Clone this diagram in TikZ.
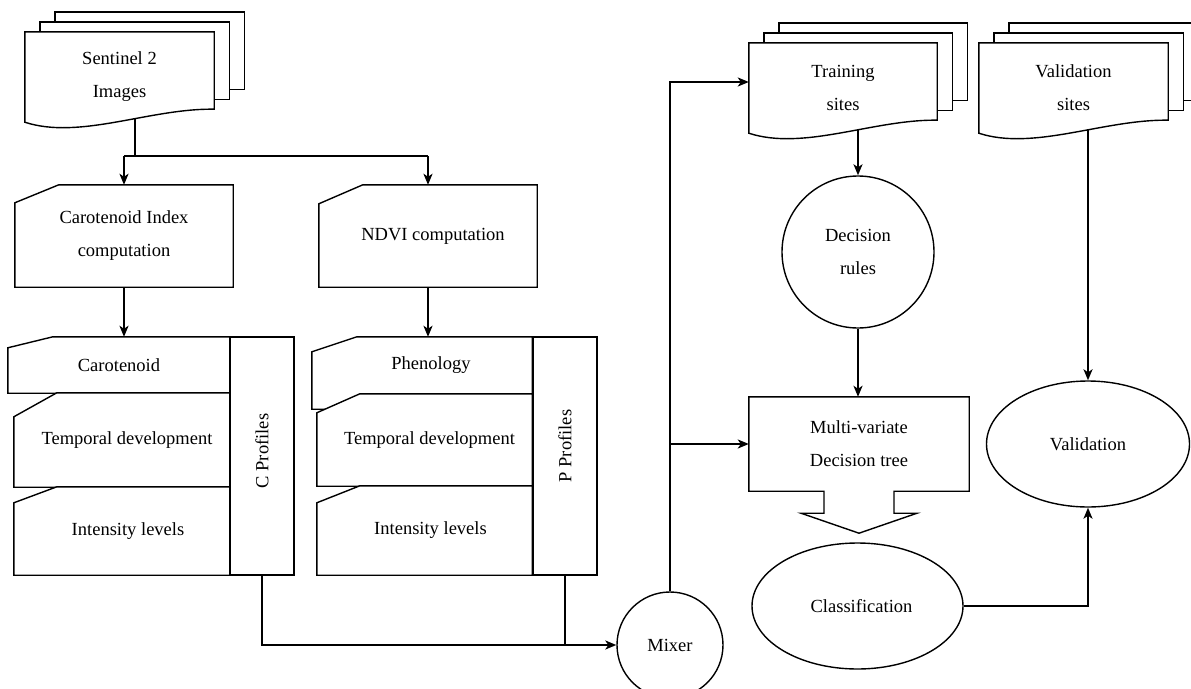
\documentclass[tikz,border=0pt]{standalone}
\usepackage{fontspec}
\setmainfont{Liberation Serif}
\usetikzlibrary{arrows.meta,shapes.geometric,calc}
\pgfdeclarelayer{paper}
\pgfdeclarelayer{under}
\pgfdeclarelayer{shapes}
\pgfsetlayers{paper,under,shapes,main}
\tikzset{
  lab/.style={inner sep=0pt, font=\fontsize{18.5}{33}\selectfont, align=center},
  shapeline/.style={line width=1.4pt, draw=black, line join=miter},
  conn/.style={line width=2pt, draw=black},
  arr/.style={conn, -{Stealth[length=11pt,width=9pt,inset=3pt]}},
  prof/.style={draw=black, line width=2.6pt, fill=white, rectangle, inner sep=0pt},
  roundnode/.style={lab, shapeline, draw, fill=white},
}
\newcommand{\docpile}[1]{%
  \draw[shapeline, fill=white] ([xshift=30pt,yshift=20pt]#1.north west) rectangle ([xshift=30pt,yshift=33pt]#1.south east);
  \draw[shapeline, fill=white] ([xshift=15pt,yshift=10pt]#1.north west) rectangle ([xshift=15pt,yshift=23pt]#1.south east);
  \draw[shapeline, fill=white] (#1.north west) -- (#1.north east) -- ([yshift=13pt]#1.south east)
    .. controls ([xshift=125pt,yshift=14pt]#1.south west) and ([xshift=55pt,yshift=-18pt]#1.south west) .. (#1.south west) -- cycle;
}
\newcommand{\cardshape}[3]{%
  \draw[shapeline, fill=white] ([xshift=#2]#1.north west) -- (#1.north east) -- (#1.south east) -- (#1.south west) -- ([yshift=-#3]#1.north west) -- cycle;
}
\begin{document}
\begin{tikzpicture}[x=1pt,y=-1pt]
\useasboundingbox (0,0) rectangle (1191,688);
\begin{pgfonlayer}{paper}
  \fill[white] (0,0) rectangle (1191,688);
\end{pgfonlayer}

% document stacks
\node[lab, minimum width=189pt, minimum height=90pt] (sen) at (119.5,77) {Sentinel 2\\Images};
\node[lab, minimum width=188pt, minimum height=90pt] (train) at (843,88) {Training\\sites};
\node[lab, minimum width=189pt, minimum height=90pt] (vsites) at (1073.5,88) {Validation\\sites};

% computation cards
\node[lab, minimum width=218pt, minimum height=102pt] (ci) at (124,236) {Carotenoid Index\\computation};
\node[lab, minimum width=218pt, minimum height=102pt] (ndvi) at (428,236) {\hspace*{10pt}NDVI computation};

% C stack
\node[lab, minimum width=222pt, minimum height=56pt] (car) at (119,365) {Carotenoid};
\node[lab, minimum width=216pt, minimum height=94pt] (ctd) at (122,440) {\hspace*{10pt}Temporal development};
\node[lab, minimum width=216pt, minimum height=88pt] (cil) at (122,531) {\hspace*{12pt}Intensity levels};

% P stack
\node[lab, minimum width=220pt, minimum height=57pt] (phen) at (422,365.5) {\hspace*{18pt}Phenology};
\node[lab, minimum width=215pt, minimum height=92pt] (ptd) at (424.5,440) {\hspace*{10pt}Temporal development};
\node[lab, minimum width=215pt, minimum height=89pt] (pil) at (424.5,530.5) {\hspace*{12pt}Intensity levels};

% profiles
\node[prof, minimum width=64pt, minimum height=238pt] (cprof) at (262,456) {};
\node[lab, rotate=90] (cproflab) at (262,451) {C Profiles};
\node[prof, minimum width=64pt, minimum height=238pt] (pprof) at (565,456) {};
\node[lab, rotate=90] (pproflab) at (565,446) {P Profiles};

% right part
\node[roundnode, circle, minimum size=106pt] (mixer) at (670,645) {Mixer};
\node[roundnode, circle, minimum size=152pt] (rules) at (858,252) {Decision\\rules};
\node[lab, minimum width=220pt, minimum height=94pt] (mv) at (859,444) {Multi-variate\\Decision tree};
\node[roundnode, ellipse, minimum width=211pt, minimum height=126pt] (cls) at (857.5,606) {\hspace*{8pt}Classification};
\node[roundnode, ellipse, minimum width=203pt, minimum height=126pt] (val) at (1088,444) {Validation};

% outlines
\begin{pgfonlayer}{shapes}
  \docpile{sen}
  \docpile{train}
  \docpile{vsites}
  \cardshape{ci}{44pt}{18pt}
  \cardshape{ndvi}{44pt}{19pt}
  \cardshape{car}{45pt}{11pt}
  \cardshape{ctd}{43pt}{24pt}
  \cardshape{cil}{43pt}{16pt}
  \draw[shapeline, fill=white] ([xshift=45pt]phen.north west) -- (phen.north east) -- ([yshift=-15pt]phen.south east) -- ([yshift=-15pt]phen.south west) -- ([yshift=-15pt]phen.north west) -- cycle;
  \cardshape{ptd}{43pt}{19pt}
  \cardshape{pil}{43pt}{17pt}
  \draw[shapeline, fill=white] (mv.north west) -- (mv.north east) -- (mv.south east)
    -- ([xshift=35pt]mv.south) -- ([xshift=35pt,yshift=-22pt]mv.south) -- ([xshift=58pt,yshift=-22pt]mv.south)
    -- ([yshift=-42pt]mv.south) -- ([xshift=-58pt,yshift=-22pt]mv.south) -- ([xshift=-35pt,yshift=-22pt]mv.south)
    -- ([xshift=-35pt]mv.south) -- (mv.south west) -- cycle;
\end{pgfonlayer}

% connectors
\coordinate (j1) at (135,156);
\begin{pgfonlayer}{under}
  \draw[conn] (j1) -- (j1 |- sen.center);
  \draw[arr] (rules.north |- train.center) -- (rules.north);
  \draw[arr] (val.north |- vsites.center) -- (val.north);
\end{pgfonlayer}
\draw[conn] (j1 -| ci.north) -- (j1 -| ndvi.north);
\draw[arr] (j1 -| ci.north) -- (ci.north);
\draw[arr] (j1 -| ndvi.north) -- (ndvi.north);
\draw[arr] (ci.south) -- (car.north -| ci.south);
\draw[arr] (ndvi.south) -- (phen.north -| ndvi.south);
\draw[arr] (cprof.south) |- (mixer.west);
\draw[conn] (pprof.south) -- (pprof.south |- mixer.west);
\draw[arr] (mixer.north) |- ([yshift=6pt]train.west);
\draw[arr] (mixer.north |- mv.west) -- (mv.west);
\draw[arr] (rules.south) -- (rules.south |- mv.north);
\draw[arr] (cls.east) -| (val.south);
\end{tikzpicture}
\end{document}
